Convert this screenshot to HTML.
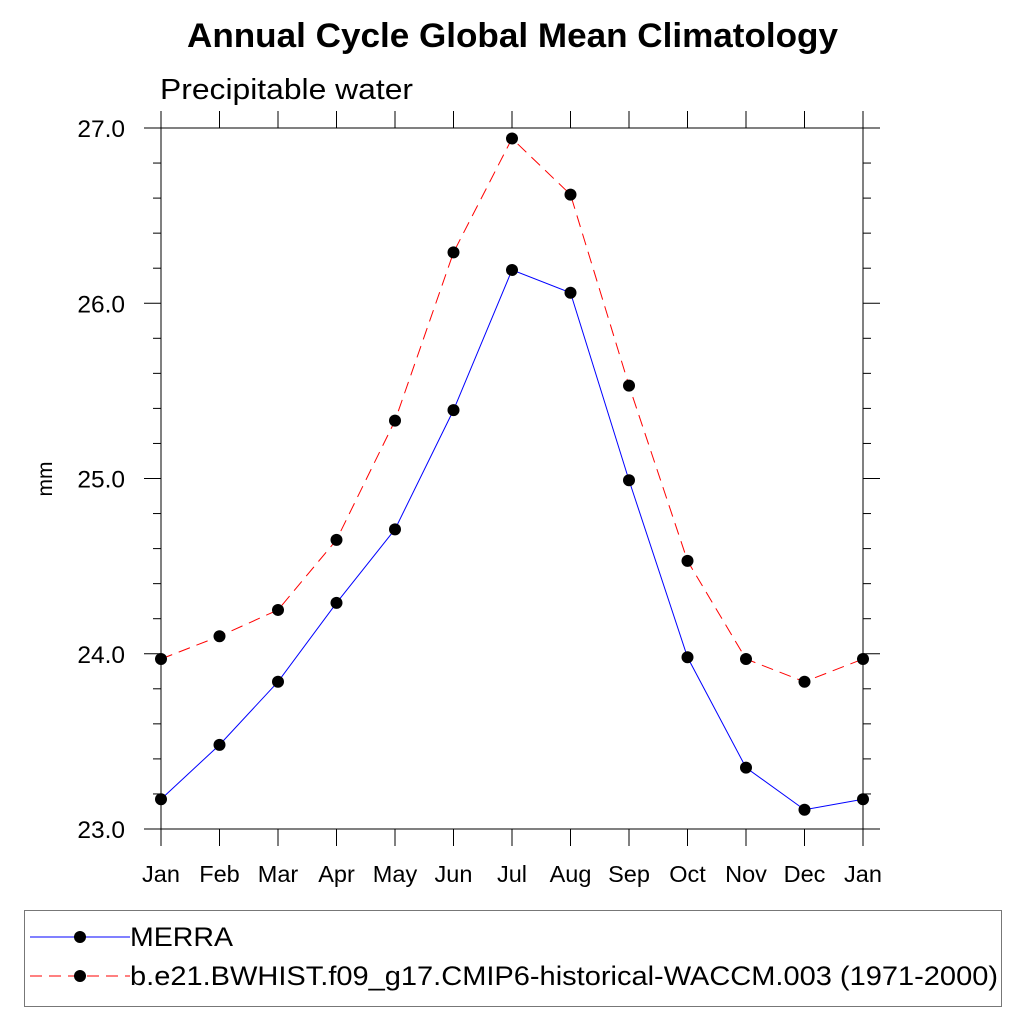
<!DOCTYPE html>
<html><head><meta charset="utf-8"><style>body{margin:0;background:#fff}svg{display:block}text{font-family:"Liberation Sans",sans-serif}</style></head>
<body>
<svg id="chart" width="1024" height="1024" viewBox="0 0 1024 1024" xmlns="http://www.w3.org/2000/svg">
<text x="187" y="47" font-size="34" font-weight="bold" textLength="651" lengthAdjust="spacingAndGlyphs">Annual Cycle Global Mean Climatology</text>
<text x="160" y="99" font-size="29" textLength="253" lengthAdjust="spacingAndGlyphs">Precipitable water</text>
<text transform="translate(52,479) rotate(-90)" text-anchor="middle" font-size="21">mm</text>
<g id="axes"></g>
<g id="series"></g>
<g>
<rect x="24.5" y="910.5" width="977" height="96" fill="none" stroke="#777" stroke-width="1"/>
<line x1="30" y1="937" x2="130" y2="937" stroke="#0000ff" stroke-width="1"/>
<circle cx="80" cy="937" r="6" fill="#000"/>
<text x="130" y="946" font-size="27" textLength="103" lengthAdjust="spacingAndGlyphs">MERRA</text>
<line x1="30" y1="976" x2="130" y2="976" stroke="#ff0000" stroke-width="1" stroke-dasharray="12,7"/>
<circle cx="80" cy="976" r="6" fill="#000"/>
<text x="130" y="985" font-size="27" textLength="868" lengthAdjust="spacingAndGlyphs">b.e21.BWHIST.f09_g17.CMIP6-historical-WACCM.003 (1971-2000)</text>
</g>
</svg>
<script>
const months = ["Jan","Feb","Mar","Apr","May","Jun","Jul","Aug","Sep","Oct","Nov","Dec","Jan"];
const merra = [23.17,23.48,23.84,24.29,24.71,25.39,26.19,26.06,24.99,23.98,23.35,23.11,23.17];
const model = [23.97,24.10,24.25,24.65,25.33,26.29,26.94,26.62,25.53,24.53,23.97,23.84,23.97];
const yTicks = [23.0,24.0,25.0,26.0,27.0];
const NS="http://www.w3.org/2000/svg";
const L=161,R=863,T=128,B=829,yMin=23,yMax=27;
const xs=i=>L+(R-L)*i/(months.length-1);
const ys=v=>B-(v-yMin)/(yMax-yMin)*(B-T);
function mk(tag,attrs,parent){const e=document.createElementNS(NS,tag);for(const k in attrs)e.setAttribute(k,attrs[k]);parent.appendChild(e);return e;}
const ax=document.getElementById('axes');
const fr=mk('rect',{x:L,y:T,width:R-L,height:B-T,fill:'none',stroke:'#000','stroke-width':1},ax);


months.forEach((m,i)=>{const x=xs(i);
mk('line',{x1:x,y1:B,x2:x,y2:B+17,stroke:'#000'},ax);
mk('line',{x1:x,y1:T,x2:x,y2:T-17,stroke:'#000'},ax);
const t=mk('text',{x:x,y:882,'text-anchor':'middle','font-size':23.5},ax);t.textContent=m;


});
for(let v=yMin;v<=yMax+1e-6;v+=0.2){const y=ys(v);const major=Math.abs(v-Math.round(v))<1e-6;const len=major?17:8;
mk('line',{x1:L,y1:y,x2:L-len,y2:y,stroke:'#000'},ax);
mk('line',{x1:R,y1:y,x2:R+len,y2:y,stroke:'#000'},ax);}
yTicks.forEach(v=>{const t=mk('text',{x:125,y:ys(v)+9,'text-anchor':'end','font-size':24.5},ax);t.textContent=v.toFixed(1);

});
const sg=document.getElementById('series');
function draw(vals,color,dash,name){
const p=mk('polyline',{points:vals.map((v,i)=>xs(i)+','+ys(v)).join(' '),fill:'none',stroke:color,'stroke-width':1,'stroke-dasharray':dash},sg);


vals.forEach((v,i)=>{const c=mk('circle',{cx:xs(i),cy:ys(v),r:6,fill:'#000'},sg);

});}
draw(merra,'#0000ff','none','merra');
draw(model,'#ff0000','12,7','model');
</script>
</body></html>
